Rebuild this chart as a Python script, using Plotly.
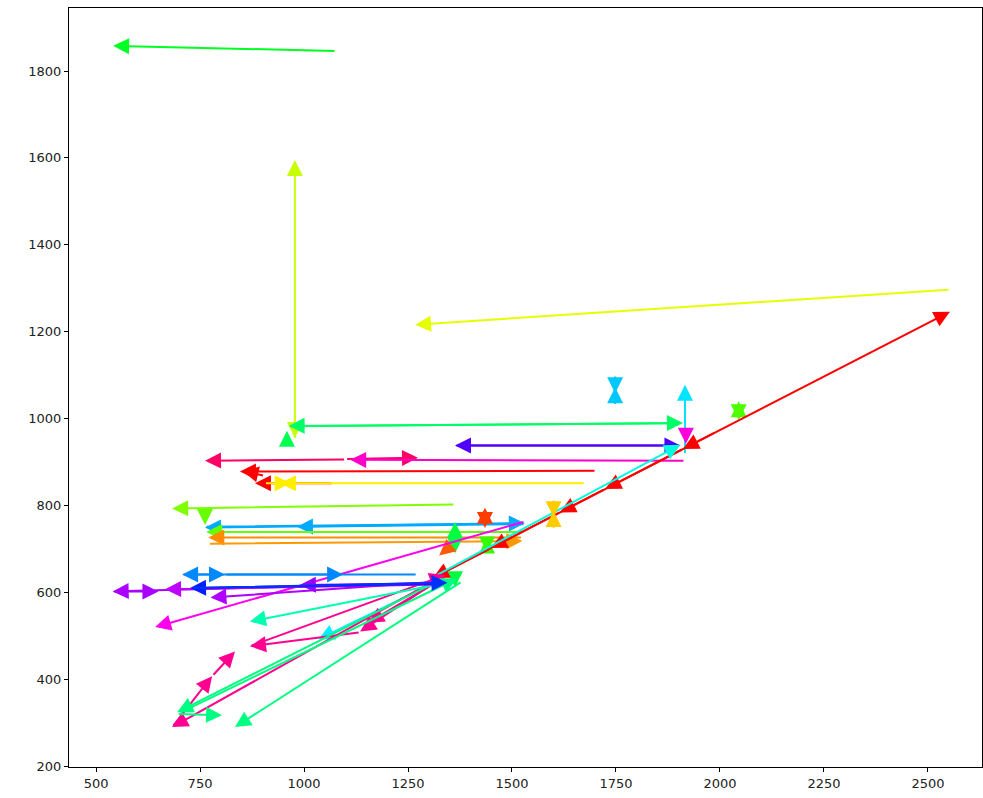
import plotly.graph_objects as go

# Arrow tails (x0, y0), heads (x1, y1) and colours
x0 = [1077, 978, 978, 1911, 963, 959, 1916, 1748, 1748, 2045, 2045, 1904, 1363, 1918,
      1100, 1100, 1916, 1702, 1070, 905, 1676, 905, 2553, 1363, 1531, 1531, 762, 1531,
      762, 1525, 770, 1435, 1435, 1363, 1363, 1363, 1440, 1440, 1350, 1303, 1990, 1911,
      1724, 1615, 1450, 1310, 1330, 1327, 683, 779, 1330, 1340, 1135, 870, 1330, 695,
      1380, 700, 1330, 1531, 1330, 540, 1330, 1330, 1330, 1330, 730, 1272, 707, 810,
      1600, 1600]
y0 = [1846, 952, 992, 989, 982, 945, 917, 1100, 1030, 1018, 1018, 938, 938, 975,
      906, 907, 903, 880, 851, 868, 851, 851, 1297, 802, 759, 757, 751, 739,
      775, 726, 712, 770, 770, 715, 735, 650, 710, 710, 705, 630, 969, 930,
      838, 784, 702, 635, 630, 634, 290, 407, 632, 636, 508, 476, 630, 320,
      625, 322, 620, 763, 622, 602, 618, 625, 621, 620, 610, 641, 641, 641,
      815, 745]
x1 = [541, 978, 978, 963, 1911, 959, 1916, 1748, 1748, 2045, 2045, 1363, 1905, 1918,
      762, 1274, 1111, 846, 882, 852, 942, 968, 1267, 683, 762, 983, 1531, 765,
      762, 770, 1525, 1435, 1435, 1363, 1363, 1363, 1440, 1440, 1325, 2553, 1911, 1724,
      1615, 1450, 1310, 1905, 1035, 683, 779, 834, 1135, 1154, 870, 1340, 695, 803,
      834, 1368, 870, 642, 540, 650, 666, 775, 990, 726, 1345, 707, 810, 1094,
      1600, 1600]
y1 = [1858, 1595, 955, 983, 990, 972, 1078, 1058, 1072, 1040, 996, 938, 938, 942,
      903, 910, 905, 878, 851, 880, 851, 851, 1216, 793, 749, 751, 759, 739,
      755, 726, 718, 795, 748, 762, 690, 612, 726, 692, 685, 1246, 930, 838,
      784, 702, 633, 940, 492, 290, 407, 464, 510, 530, 476, 640, 324, 317,
      290, 632, 533, 520, 602, 602, 607, 588, 617, 610, 622, 641, 641, 641,
      773, 787]
colors = ["#00ff22", "#c8ff00", "#c8ff00", "#00ff66", "#00ff66", "#00ff55", "#00e5ff",
          "#00c8ff", "#00c8ff", "#4dff00", "#4dff00", "#5000ff", "#5000ff", "#ff00dd",
          "#ff0066", "#ff0066", "#ff00cc", "#ff0000", "#ff0000", "#ff0000", "#ffee00",
          "#ffee00", "#e6ff00", "#80ff00", "#00aaff", "#00aaff", "#00aaff", "#66ff00",
          "#66ff00", "#ff8c00", "#ff9900", "#ff3c00", "#ff3c00", "#00ff40", "#00ff40",
          "#00ff40", "#33ff00", "#33ff00", "#ff5a00", "#ff0000", "#ff0000", "#ff0000",
          "#ff0000", "#ff0000", "#ff0000", "#00ffdd", "#00f0ff", "#ff0090", "#ff0090",
          "#ff0090", "#ff0090", "#ff0090", "#ff0090", "#ff0090", "#00ff80", "#00ff80",
          "#00ff80", "#00ff80", "#00ffb0", "#ff00ee", "#aa00ff", "#aa00ff", "#c000ff",
          "#b000ff", "#9900ff", "#0020ff", "#0030ff", "#0088ff", "#0088ff", "#0088ff",
          "#ffcc00", "#ffcc00"]

x_ticks = [500, 750, 1000, 1250, 1500, 1750, 2000, 2250, 2500]
y_ticks = [200, 400, 600, 800, 1000, 1200, 1400, 1600, 1800]

fig = go.Figure()
# invisible trace so the axes render
fig.add_trace(go.Scatter(x=[x0[0]], y=[y0[0]], mode="markers",
                         marker=dict(opacity=0), hoverinfo="skip", showlegend=False))

annotations = []
for xa, ya, xb, yb, c in zip(x0, y0, x1, y1, colors):
    annotations.append(dict(
        x=xb, y=yb, ax=xa, ay=ya, xref="x", yref="y", axref="x", ayref="y",
        text="", showarrow=True, arrowhead=2, arrowsize=1.6, arrowwidth=2,
        arrowcolor=c, standoff=0, startstandoff=0))

axis_common = dict(showline=True, linecolor="black", linewidth=1, mirror=True,
                   ticks="outside", ticklen=4, tickcolor="black", showgrid=False,
                   zeroline=False, tickfont=dict(family="DejaVu Sans", size=13, color="#222"))

fig.update_layout(
    width=983, height=798,
    margin=dict(l=69, r=1, t=8, b=31),
    paper_bgcolor="white", plot_bgcolor="white",
    showlegend=False,
    annotations=annotations,
    xaxis=dict(range=[435, 2630], tickvals=x_ticks, **axis_common),
    yaxis=dict(range=[198, 1945], tickvals=y_ticks, **axis_common),
)

fig.write_html("out.html")
